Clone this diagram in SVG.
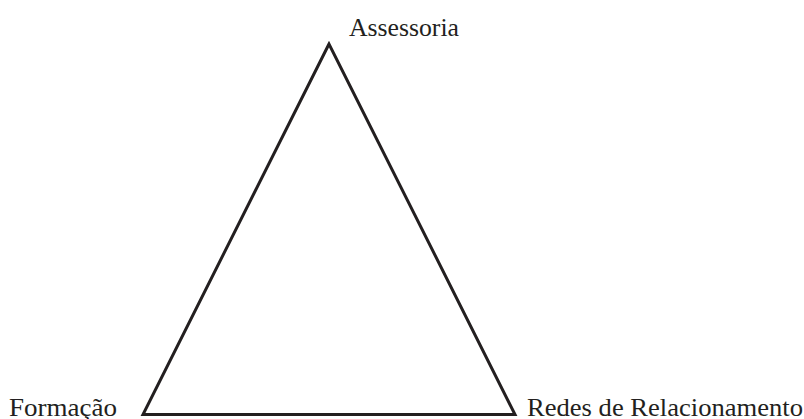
<svg xmlns="http://www.w3.org/2000/svg" width="804" height="419" viewBox="0 0 804 419">
<style>
.lbl{font-family:'Liberation Serif','Times New Roman',Times,serif;font-size:26px;fill:#231f20}
.edge{stroke:#231f20;stroke-width:3;fill:none;stroke-linejoin:miter}
</style>
<rect width="804" height="419" fill="#fff"/>
<g id="connectors">
<path class="edge" d="M329,44 L143,414.5 L515,414.5 Z"/>
</g>
<g id="assessoria"><text class="lbl" font-family="Liberation Serif, serif" x="349" y="36" textLength="110" lengthAdjust="spacingAndGlyphs">Assessoria</text></g>
<g id="formacao"><text class="lbl" font-family="Liberation Serif, serif" x="9" y="416" textLength="108" lengthAdjust="spacingAndGlyphs">Formação</text></g>
<g id="redes"><text class="lbl" font-family="Liberation Serif, serif" x="527" y="416" textLength="276" lengthAdjust="spacingAndGlyphs">Redes de Relacionamento</text></g>
</svg>
